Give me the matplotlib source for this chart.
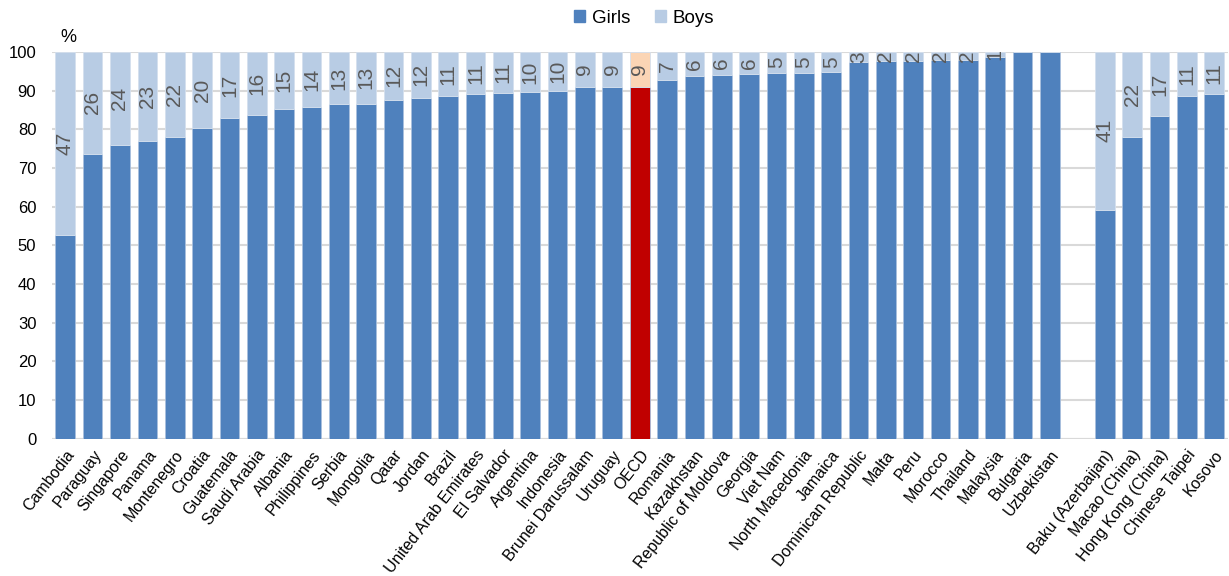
import numpy as np
import matplotlib
matplotlib.use("Agg")
import matplotlib.pyplot as plt
from matplotlib.patches import Patch

plt.rcParams['font.family'] = ['Liberation Sans', 'DejaVu Sans']

countries = ["Cambodia", "Paraguay", "Singapore", "Panama", "Montenegro", "Croatia",
             "Guatemala", "Saudi Arabia", "Albania", "Philippines", "Serbia", "Mongolia",
             "Qatar", "Jordan", "Brazil", "United Arab Emirates", "El Salvador", "Argentina",
             "Indonesia", "Brunei Darussalam", "Uruguay", "OECD", "Romania", "Kazakhstan",
             "Republic of Moldova", "Georgia", "Viet Nam", "North Macedonia", "Jamaica",
             "Dominican Republic", "Malta", "Peru", "Morocco", "Thailand", "Malaysia",
             "Bulgaria", "Uzbekistan"]
partners = ["Baku (Azerbaijan)", "Macao (China)", "Hong Kong (China)", "Chinese Taipei", "Kosovo"]

girls_c = [52.6, 73.6, 76.0, 77.0, 78.0, 80.2, 82.8, 83.8, 85.3, 85.8, 86.4, 86.6,
           87.6, 88.2, 88.7, 89.0, 89.3, 89.6, 90.0, 90.8, 90.9, 90.8, 92.6, 93.7,
           93.9, 94.2, 94.5, 94.5, 94.9, 97.3, 97.6, 97.7, 97.9, 97.9, 98.6,
           100.0, 100.0]
boys_lbl_c = [47, 26, 24, 23, 22, 20, 17, 16, 15, 14, 13, 13, 12, 12, 11, 11, 11, 10,
              10, 9, 9, 9, 7, 6, 6, 6, 5, 5, 5, 3, 2, 2, 2, 2, 1, None, None]
girls_p = [59.2, 78.0, 83.3, 88.7, 89.2]
boys_lbl_p = [41, 22, 17, 11, 11]

names = countries + partners
girls = np.array(girls_c + girls_p)
boys = 100 - girls
labels = boys_lbl_c + boys_lbl_p
x = np.array(list(range(len(countries))) + [len(countries) + 1 + i for i in range(len(partners))])

dark = "#4F81BD"
light = "#B8CCE4"
c_girls = [("#C00000" if n == "OECD" else dark) for n in names]
c_boys = [("#FBD5B5" if n == "OECD" else light) for n in names]

fig = plt.figure(figsize=(12.29, 5.76), dpi=100)
ax = fig.add_axes([0.042, 0.238, 0.957, 0.672])

ax.bar(x, girls, width=0.72, color=c_girls, edgecolor="#A9C0DE", linewidth=0.6, zorder=3)
ax.bar(x, boys, bottom=girls, width=0.72, color=c_boys, edgecolor="#D5E0EE", linewidth=0.6, zorder=3)

# boys share written inside the upper segment
for xi, g, b, lab in zip(x, girls, boys, labels):
    if lab is None:
        continue
    ax.text(xi, g + b / 2, str(lab), rotation=90, ha="center", va="center",
            fontsize=15, color="#595959", zorder=4, clip_on=True)

ax.set_xlim(-0.5, x[-1] + 0.5)
ax.set_ylim(0, 100)
ax.set_yticks(range(0, 101, 10))
ax.set_xticks(x)
ax.set_xticklabels(names, rotation=52, ha="right", rotation_mode="anchor", fontsize=11.5)
ax.tick_params(axis="both", length=0, labelsize=12)
ax.tick_params(axis="x", pad=6, labelsize=11.5)
ax.tick_params(axis="y", pad=11)
ax.grid(axis="y", color="#D9D9D9", linewidth=1.5, zorder=0)
for s in ax.spines.values():
    s.set_visible(False)
ax.axhline(0, color="#D9D9D9", linewidth=1.5, zorder=2)

ax.text(0.1, 101.5, "%", ha="center", va="bottom", fontsize=13)

handles = [Patch(color=dark, label="Girls"), Patch(color=light, label="Boys")]
fig.legend(handles=handles, loc="center", bbox_to_anchor=(0.524, 0.968), ncol=2,
           frameon=False, fontsize=13.5, handlelength=0.6, handleheight=0.6,
           handletextpad=0.35, columnspacing=1.3)

fig.savefig("out.png", dpi=100)
